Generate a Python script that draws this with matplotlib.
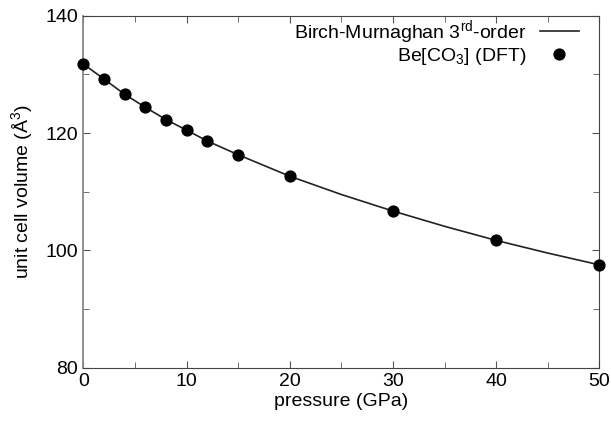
import matplotlib
matplotlib.use("Agg")
import matplotlib.pyplot as plt
from matplotlib.ticker import MultipleLocator

plt.rcParams['font.family'] = ['Liberation Sans', 'DejaVu Sans']
plt.rcParams['mathtext.fontset'] = 'custom'
plt.rcParams['mathtext.rm'] = 'Liberation Sans'
plt.rcParams['mathtext.it'] = 'Liberation Sans'

# DFT data points
pressure = [0, 2, 4, 6, 8, 10, 12, 15, 20, 30, 40, 50]
volume = [131.77, 129.2, 126.6, 124.4, 122.3, 120.5, 118.65, 116.3, 112.64, 106.7, 101.7, 97.53]

# Birch-Murnaghan 3rd-order curve
fit_pressure = [0, 2, 4, 6, 8, 10, 12, 15, 20, 25, 30, 35, 40, 45, 50]
fit_volume = [131.77, 129.2, 126.6, 124.4, 122.3, 120.5, 118.65, 116.3, 112.64, 109.52, 106.7, 104.1, 101.7, 99.54, 97.53]

fig = plt.figure(figsize=(6.11, 4.21), dpi=100)
ax = fig.add_axes([0.1364, 0.1266, 0.981 - 0.1364, 0.9627 - 0.1266])

ax.plot(fit_pressure, fit_volume, color='#222222', lw=1.2,
        label='Birch-Murnaghan 3$^{\\mathrm{rd}}$-order', zorder=2)
ax.plot(pressure, volume, 'o', color='black', ms=7.8, lw=0,
        label='Be[CO$_3$] (DFT)', zorder=3, clip_on=False)

ax.set_xlim(0, 50)
ax.set_ylim(80, 140)
ax.xaxis.set_major_locator(MultipleLocator(10))
ax.xaxis.set_minor_locator(MultipleLocator(5))
ax.yaxis.set_major_locator(MultipleLocator(20))
ax.yaxis.set_minor_locator(MultipleLocator(10))
ax.tick_params(which='both', direction='in', top=True, right=True,
               labelsize=14, color='#555555', pad=4)
ax.tick_params(which='major', length=5)
ax.tick_params(which='minor', length=4)
for s in ['bottom', 'top', 'right']:
    ax.spines[s].set_color('#444444')
ax.spines['left'].set_color('#888888')
ax.spines['left'].set_linewidth(1.3)

ax.set_xlabel('pressure (GPa)', fontsize=14, labelpad=2)
ax.set_ylabel('unit cell volume (Å$^3$)', fontsize=14, labelpad=7)

ax.legend(loc='upper right', frameon=False, markerfirst=False, fontsize=14,
          handlelength=2.0, borderaxespad=0.0, labelspacing=0.0,
          handletextpad=0.7, bbox_to_anchor=(0.975, 1.015))

fig.savefig('out.png', dpi=100)
